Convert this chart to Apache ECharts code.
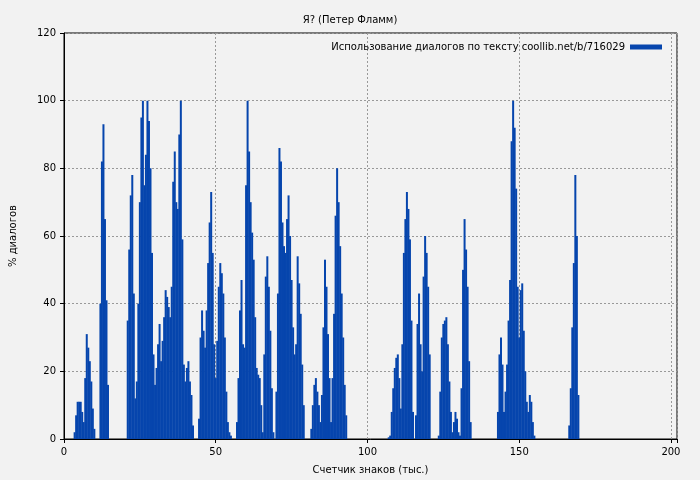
<!DOCTYPE html>
<html><head><meta charset="utf-8">
<script src="https://cdn.jsdelivr.net/npm/echarts@6/dist/echarts.min.js"></script>
<style>html,body{margin:0;padding:0;background:#f2f2f2}#c{width:700px;height:480px}</style>
</head><body><div id="c"></div>
<script>
const xs = [3.5,4,4.5,5,5.5,6,6.5,7,7.5,8,8.5,9,9.5,10,
12,12.5,13,13.5,14,14.5,
21,21.5,22,22.5,23,23.5,24,24.5,25,25.5,26,26.5,27,27.5,28,28.5,29,29.5,30,30.5,31,31.5,32,32.5,33,33.5,34,34.5,35,35.5,36,36.5,37,37.5,38,38.5,39,39.5,40,40.5,41,41.5,42,42.5,
44.5,45,45.5,46,46.5,47,47.5,48,48.5,49,49.5,50,50.5,51,51.5,52,52.5,53,53.5,54,54.5,55,
57,57.5,58,58.5,59,59.5,60,60.5,61,61.5,62,62.5,63,63.5,64,64.5,65,65.5,
66,66.5,67,67.5,68,68.5,69,
70,70.5,71,71.5,72,72.5,73,73.5,74,74.5,75,75.5,76,76.5,77,77.5,78,78.5,79,
81.5,82,82.5,83,83.5,84,84.5,85,85.5,86,86.5,87,87.5,88,88.5,89,89.5,90,90.5,91,91.5,92,92.5,93,
107,107.5,108,108.5,109,109.5,110,110.5,111,111.5,112,112.5,113,113.5,114,114.5,115,
116,116.5,117,117.5,118,118.5,119,119.5,120,120.5,
123.5,124,124.5,125,125.5,126,126.5,127,127.5,128,128.5,129,129.5,130,130.5,131,131.5,132,132.5,133,133.5,134,
143,143.5,144,144.5,145,145.5,146,146.5,147,147.5,148,148.5,149,149.5,150,150.5,151,151.5,152,152.5,153,153.5,154,154.5,155,
166.5,167,167.5,168,168.5,169,169.5];
const ys = [2,7,11,11,11,8,5,18,31,27,23,17,9,3,
40,82,93,65,41,16,
35,56,72,78,43,12,17,40,70,95,100,75,84,100,94,80,55,25,16,21,28,34,23,29,36,44,42,39,36,45,76,85,70,68,90,100,59,22,17,21,23,17,13,4,
6,30,38,32,27,38,52,64,73,55,28,18,29,45,52,49,43,30,14,5,2,1,
5,18,38,47,28,27,75,100,85,70,61,53,36,21,19,18,10,2,
25,48,54,45,32,15,2,
14,43,86,82,64,57,55,65,72,60,47,33,25,28,54,46,37,22,10,
3,10,16,18,14,10,5,13,33,53,45,31,18,5,18,37,66,80,70,57,43,30,16,7,
0.5,1,8,15,21,24,25,18,9,28,55,65,73,68,59,35,8,
7,34,43,28,20,48,60,55,45,25,
1,14,30,34,35,36,28,17,8,2,5,8,6,2,1,15,50,65,56,45,23,5,
8,25,30,22,8,14,22,35,47,88,100,92,74,45,30,44,46,32,20,11,8,13,11,5,1,
4,15,33,52,78,60,13];
const xTicks = [0,50,100,150,200];
const yTicks = [0,20,40,60,80,100,120];
const data = xs.map((x,i)=>[x,ys[i]]);
const c = echarts.init(document.getElementById('c'));
const ff = 'DejaVu Sans';
c.setOption({
  backgroundColor:'#f2f2f2',
  animation:false,
  title:{text:'Я? (Петер Фламм)',left:'center',top:10,textStyle:{fontFamily:ff,fontSize:10,fontWeight:'normal',color:'#000'}},
  legend:{right:33,top:37,align:'right',itemWidth:32,itemHeight:5,icon:'rect',
    textStyle:{fontFamily:ff,fontSize:10,color:'#000'},data:['Использование диалогов по тексту coollib.net/b/716029']},
  grid:{left:61,right:23,top:33,bottom:40,show:true,borderColor:'#000',borderWidth:1,backgroundColor:'transparent'},
  xAxis:{type:'value',min:0,max:xTicks[xTicks.length-1]+2,interval:50,
    name:'Счетчик знаков (тыс.)',nameLocation:'middle',nameGap:26,nameTextStyle:{fontFamily:ff,fontSize:10,color:'#000'},
    axisLine:{lineStyle:{color:'#000'}},axisTick:{lineStyle:{color:'#000'},length:4},
    axisLabel:{fontFamily:ff,fontSize:10,color:'#000',formatter:v=>xTicks.includes(v)?v:''},
    splitLine:{lineStyle:{color:'#999',type:[2,2]}}},
  yAxis:{type:'value',min:0,max:120,interval:20,
    name:'% диалогов',nameLocation:'middle',nameGap:46,nameTextStyle:{fontFamily:ff,fontSize:10,color:'#000'},
    axisLine:{show:true,lineStyle:{color:'#000'}},axisTick:{show:true,lineStyle:{color:'#000'},length:4},
    axisLabel:{fontFamily:ff,fontSize:10,color:'#000'},
    splitLine:{lineStyle:{color:'#999',type:[2,2]}}},
  series:[{name:'Использование диалогов по тексту coollib.net/b/716029',type:'bar',data:data,barWidth:2,
    itemStyle:{color:'#0645ad'},barGap:'-100%'}]
});
</script></body></html>
